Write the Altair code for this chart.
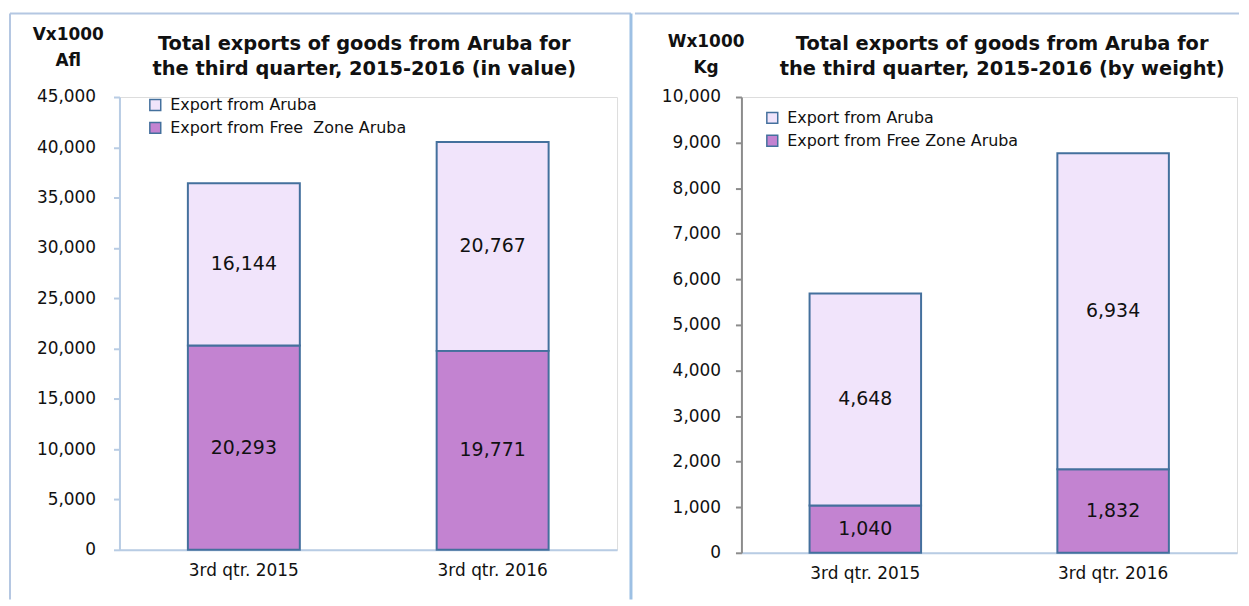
import altair as alt
import pandas as pd

categories = ["3rd qtr. 2015", "3rd qtr. 2016"]
series_value = ["Export from Aruba", "Export from Free\u00a0 Zone Aruba"]
series_weight = ["Export from Aruba", "Export from Free Zone Aruba"]
value_aruba = [16144, 20767]
value_freezone = [20293, 19771]
weight_aruba = [4648, 6934]
weight_freezone = [1040, 1832]

title_value = ["Total exports of goods from Aruba for", "the third quarter, 2015-2016 (in value)"]
title_weight = ["Total exports of goods from Aruba for", "the third quarter, 2015-2016 (by weight)"]
unit_value = ["Vx1000", "Afl"]
unit_weight = ["Wx1000", "Kg"]
ticks_value = list(range(0, 45001, 5000))
ticks_weight = list(range(0, 10001, 1000))

FONT = "DejaVu Sans"
C_LIGHT = "#F1E4FB"
C_DARK = "#C383D1"
C_STROKE = "#44709D"
BORDER = "#B4C7E2"


def make_df(series, aruba, fz):
    rows = []
    for i, c in enumerate(categories):
        rows.append({"cat": c, "series": series[1], "value": fz[i], "ord": 0})
        rows.append({"cat": c, "series": series[0], "value": aruba[i], "ord": 1})
    return pd.DataFrame(rows)


def rule(x, y, x2=None, y2=None, color=BORDER, width=2):
    enc = {"x": alt.value(x), "y": alt.value(y)}
    if x2 is not None:
        enc["x2"] = alt.value(x2)
    if y2 is not None:
        enc["y2"] = alt.value(y2)
    return alt.Chart(alt.Data(values=[{}])).mark_rule(color=color, strokeWidth=width).encode(**enc)


def text_at(txt, x, y, size=19.5, bold=True):
    return alt.Chart(alt.Data(values=[{}])).mark_text(
        font=FONT, fontSize=size, fontWeight="bold" if bold else "normal",
        align="center", baseline="middle", color="#111"
    ).encode(x=alt.value(x), y=alt.value(y), text=alt.value(txt))


def panel(df, series, ymax, ticks, unit, title, W, H, y_axis_color,
          unit_x, unit_y, title_x, title_y1, title_y2, legend_x, legend_y,
          label_pad, borders):
    base = alt.Chart(df).transform_stack(
        stack="value", as_=["y0", "y1"], groupby=["cat"],
        sort=[alt.SortField("ord", order="ascending")]
    ).transform_calculate(mid="(datum.y0 + datum.y1) / 2")

    x = alt.X("cat:N", sort=categories,
              scale=alt.Scale(paddingInner=0.55, paddingOuter=0.275),
              axis=alt.Axis(title=None, labelAngle=0, ticks=False, domainColor="#B8CCE4",
                            domainWidth=2, labelFont=FONT, labelFontSize=17,
                            labelColor="#111", labelPadding=13))

    bars = base.mark_bar(stroke=C_STROKE, strokeWidth=2).encode(
        x=x,
        y=alt.Y("y0:Q", scale=alt.Scale(domain=[0, ymax], nice=False),
                axis=alt.Axis(values=ticks, format=",d", grid=False,
                              domainColor=y_axis_color, domainWidth=2,
                              tickColor=y_axis_color, tickWidth=2, tickSize=6,
                              labelFont=FONT, labelFontSize=17, labelColor="#111",
                              labelPadding=label_pad,
                              title=unit, titleAngle=0, titleAlign="center",
                              titleBaseline="top", titleX=unit_x, titleY=unit_y,
                              titleFont=FONT, titleFontSize=17, titleFontWeight="bold",
                              titleColor="#111", titleLineHeight=26)),
        y2="y1:Q",
        color=alt.Color("series:N",
                        scale=alt.Scale(domain=series, range=[C_LIGHT, C_DARK]),
                        legend=alt.Legend(title=None, orient="none",
                                          legendX=legend_x, legendY=legend_y,
                                          symbolType="square", symbolSize=120,
                                          symbolStrokeColor=C_STROKE,
                                          symbolStrokeWidth=1.5, symbolOpacity=1,
                                          labelFont=FONT, labelFontSize=16,
                                          labelLimit=0,
                                          labelColor="#111", rowPadding=5,
                                          padding=0, labelOffset=7)),
        order=alt.Order("ord:Q"),
    )

    labels = base.mark_text(font=FONT, fontSize=19, color="#111", baseline="middle").encode(
        x=alt.X("cat:N", sort=categories),
        y=alt.Y("mid:Q"),
        text=alt.Text("value:Q", format=",d"),
    )

    layers = [bars, labels,
              text_at(title[0], title_x, title_y1),
              text_at(title[1], title_x, title_y2)] + borders
    return alt.layer(*layers).properties(width=W, height=H)


left = panel(make_df(series_value, value_aruba, value_freezone), series_value,
             45000, ticks_value, unit_value, title_value, 500, 455, "#B8CCE4",
             -52, -71, 246, -53, -28, 28, 0, 18,
             [rule(-110, -84, x2=514), rule(-110, -84, y2=505),
              rule(514, -84, y2=505, color="#9DC0E4", width=3)])

right = panel(make_df(series_weight, weight_aruba, weight_freezone), series_weight,
              10000, ticks_weight, unit_weight, title_weight, 498, 458, "#8C8C8C",
              -36, -64, 262, -53, -28, 23, 13, 15,
              [rule(-107, -84, x2=500)])

chart = alt.hconcat(left, right, spacing=0).resolve_scale(
    color="independent", x="independent", y="independent"
).resolve_legend(color="independent").properties(
    padding={"left": 0, "top": 2, "right": 0, "bottom": 0}
).configure_view(fill="#E6E8FA", stroke=None).configure(background="white")

chart.save("out.html", embed_options={"renderer": "svg", "actions": False})
